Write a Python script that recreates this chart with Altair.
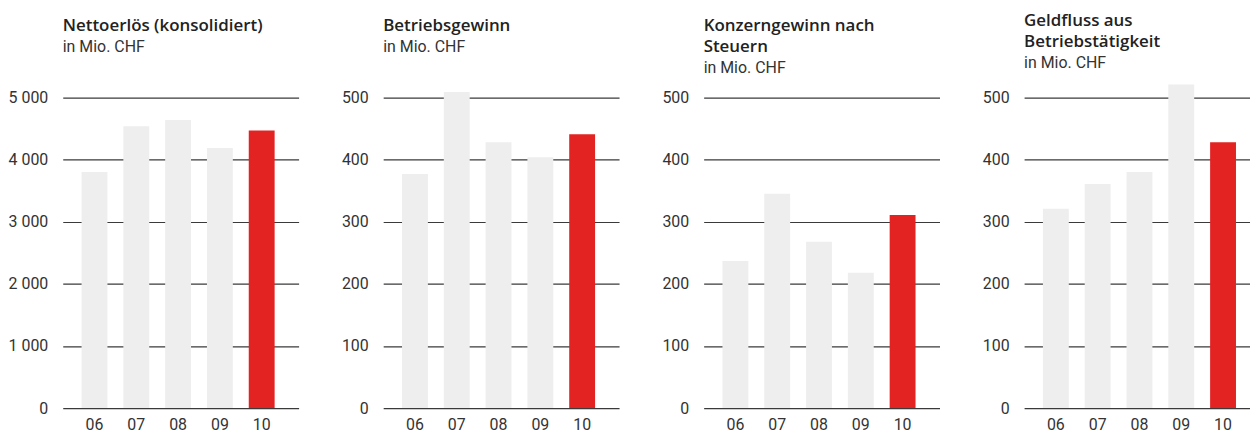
import altair as alt
import pandas as pd

years = ["06", "07", "08", "09", "10"]
titles = [
    ["Nettoerlös (konsolidiert)"],
    ["Betriebsgewinn"],
    ["Konzerngewinn nach", "Steuern"],
    ["Geldfluss aus", "Betriebstätigkeit"],
]
subtitle = "in Mio. CHF"
nettoerloes = [3800, 4540, 4640, 4190, 4470]
betriebsgewinn = [377, 509, 428, 404, 441]
konzerngewinn = [237, 345, 268, 218, 311]
geldfluss = [321, 361, 380, 521, 428]
series = [nettoerloes, betriebsgewinn, konzerngewinn, geldfluss]
y_max = [5000, 500, 500, 500]
y_step = [1000, 100, 100, 100]

GRAY = "#eeeeee"
RED = "#e32322"
LABEL_FONT = "Roboto"
TITLE_FONT = "Open Sans"

panels = []
for i, vals in enumerate(series):
    df = pd.DataFrame({"year": years, "value": vals,
                       "hl": ["n", "n", "n", "n", "y"]})
    two_line = len(titles[i]) > 1
    ticks = list(range(0, y_max[i] + 1, y_step[i]))
    bars = alt.Chart(df).mark_bar(clip=False).encode(
        x=alt.X("year:N", title=None,
                scale=alt.Scale(paddingInner=0.381, paddingOuter=0.512, align=0.44),
                axis=alt.Axis(labelFont=LABEL_FONT, labelFontSize=16, labelColor="#333333",
                              labelPadding=9, ticks=False, domain=False, labelAngle=0)),
        y=alt.Y("value:Q", title=None,
                scale=alt.Scale(domain=[0, y_max[i]], nice=False, zero=True),
                axis=alt.Axis(values=ticks, grid=True, gridColor="#3a3a3a", gridWidth=1.2,
                              gridOpacity=1, ticks=False, domain=False,
                              labelFont=LABEL_FONT, labelFontSize=16, labelColor="#333333",
                              labelPadding=15, minExtent=55, maxExtent=55,
                              labelExpr="replace(format(datum.value, ','), ',', ' ')")),
        color=alt.Color("hl:N", scale=alt.Scale(domain=["n", "y"], range=[GRAY, RED]),
                        legend=None),
    )
    panel = bars.properties(
        width=237, height=312,
        title=alt.TitleParams(
            text=titles[i], subtitle=subtitle, anchor="start", frame="group",
            font=TITLE_FONT, fontSize=17, fontWeight=600, color="#222222",
            lineHeight=21,
            subtitleFont=LABEL_FONT, subtitleFontSize=16, subtitleColor="#333333",
            subtitlePadding=4,
            offset=(13 if two_line else 34),
        ),
    )
    panels.append(panel)

chart = alt.hconcat(*panels, spacing=30).properties(
    padding={"left": 0, "top": 2, "right": -10, "bottom": 0}
).configure_view(stroke=None).configure_axis(gridCap="butt")

chart.save("out.html", embed_options={"renderer": "svg", "actions": False})
